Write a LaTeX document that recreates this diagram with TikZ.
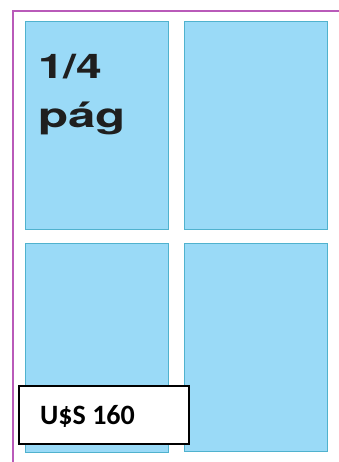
\documentclass[tikz,border=0pt]{standalone}
\usepackage{fontspec}
\setmainfont{TeX Gyre Heros}
\newfontfamily\calib{Carlito}
\definecolor{cellfill}{RGB}{154,218,247}
\definecolor{celledge}{RGB}{80,178,206}
\definecolor{pageedge}{RGB}{185,90,185}
\begin{document}
\begin{tikzpicture}[x=1pt,y=-1pt,
  cell/.style={draw=celledge,fill=cellfill,line width=1pt,anchor=north west,inner sep=0pt,minimum width=143pt,minimum height=208pt},
  pricebox/.style={draw=black,fill=white,line width=1.8pt,anchor=north west,inner sep=0pt,minimum width=170pt,minimum height=58pt},
  bigtxt/.style={anchor=base west,inner sep=0pt,font=\fontsize{34}{34}\selectfont\bfseries,text=black!88}]
\useasboundingbox (0,0) rectangle (339,462);
\fill[white] (0,0) rectangle (339,462);
\coordinate (pgtl) at (13,11);
\coordinate (pgtr) at (339,11);
\coordinate (pgbl) at (13,462);
\draw[pageedge,line width=1.1pt] (pgtr) -- (pgtl) -- (pgbl);
\node[cell] (tl) at (25,21) {};
\node[cell] (tr) at (184,21) {};
\node[cell,minimum height=209pt] (bl) at (25,243) {};
\node[cell] (br) at (184,243) {};
\node[bigtxt] (frac) at (38,79) {\scalebox{1.36}[1]{1/4}};
\node[bigtxt] (pag) at (38,128) {\scalebox{1.45}[1]{pág}};
\node[pricebox] (price) at (18,385) {};
\node[anchor=base west,inner sep=0pt,font=\calib\fontsize{28}{28}\selectfont\bfseries] (pricetxt) at (40,424) {U\$S 160};
\end{tikzpicture}
\end{document}
